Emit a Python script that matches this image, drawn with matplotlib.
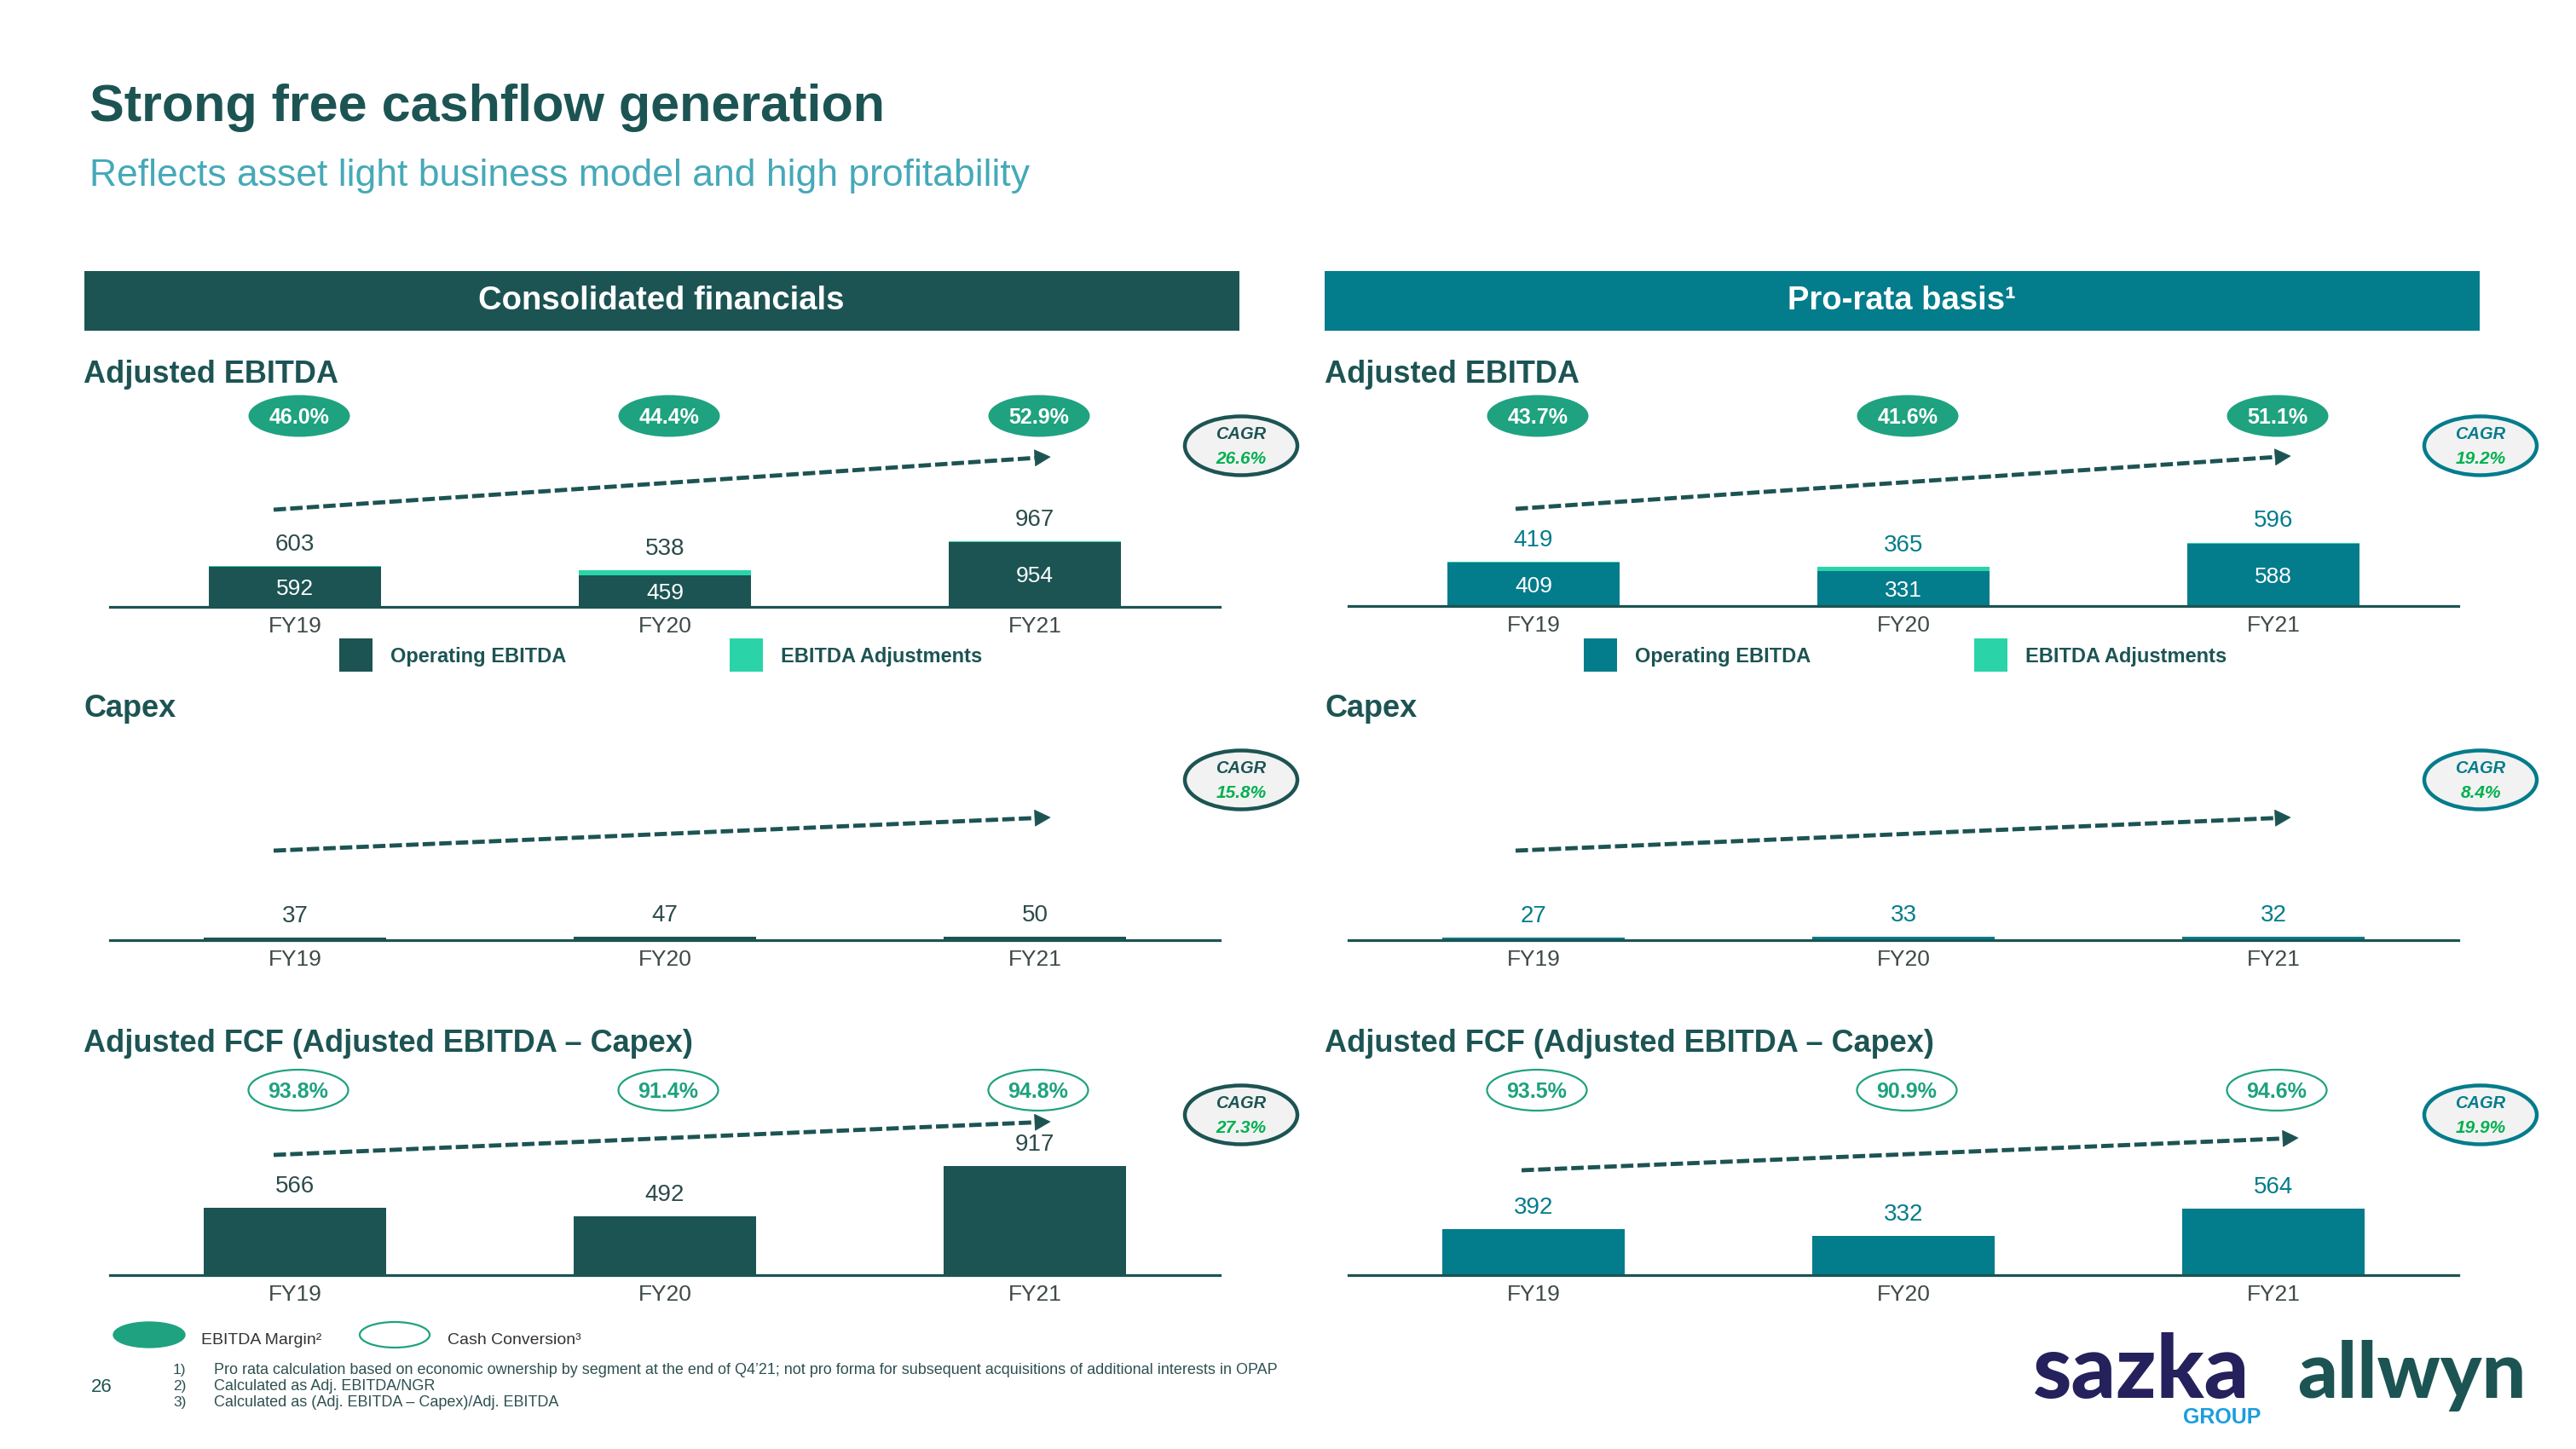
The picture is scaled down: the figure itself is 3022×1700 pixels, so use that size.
import matplotlib
matplotlib.use('Agg')
import matplotlib.pyplot as plt
from matplotlib.patches import Rectangle, Ellipse, Polygon
import numpy as np

# ---------------- data ----------------
categories = ['FY19', 'FY20', 'FY21']

# Consolidated financials
cons_operating_ebitda = [592, 459, 954]
cons_adjusted_ebitda = [603, 538, 967]
cons_ebitda_margin = [46.0, 44.4, 52.9]
cons_capex = [37, 47, 50]
cons_fcf = [566, 492, 917]
cons_cash_conversion = [93.8, 91.4, 94.8]
cons_cagr = [26.6, 15.8, 27.3]          # EBITDA, Capex, FCF

# Pro-rata basis
pr_operating_ebitda = [409, 331, 588]
pr_adjusted_ebitda = [419, 365, 596]
pr_ebitda_margin = [43.7, 41.6, 51.1]
pr_capex = [27, 33, 32]
pr_fcf = [392, 332, 564]
pr_cash_conversion = [93.5, 90.9, 94.6]
pr_cagr = [19.2, 8.4, 19.9]

title = 'Strong free cashflow generation'
subtitle = 'Reflects asset light business model and high profitability'
footnotes = [
    'Pro rata calculation based on economic ownership by segment at the end of Q4\u201921; not pro forma for subsequent acquisitions of additional interests in OPAP',
    'Calculated as Adj. EBITDA/NGR',
    'Calculated as (Adj. EBITDA \u2013 Capex)/Adj. EBITDA',
]

# ---------------- style ----------------
DARK = '#1C5453'
PRO = '#037C8C'
ADJ = '#2AD4A8'
PILL = '#1FA27F'
CAGR_GREEN = '#00B050'
GREY = '#3F4A4A'
SUB = '#45A9B8'
LEFT_LBL = '#2C4A4A'

plt.rcParams['font.family'] = ['Liberation Sans', 'DejaVu Sans']

W, H = 3022, 1700
fig = plt.figure(figsize=(W / 100, H / 100), dpi=100)
fig.patch.set_facecolor('white')

bg = fig.add_axes([0, 0, 1, 1])
bg.set_xlim(0, W)
bg.set_ylim(H, 0)
bg.axis('off')


def T(x, y, s, size, color, weight='normal', ha='left', style='normal', family=None, ax=bg):
    kw = {}
    if family is not None:
        kw['family'] = family
    return ax.text(x, y, s, fontsize=size, color=color, fontweight=weight, ha=ha,
                   va='baseline', fontstyle=style, **kw)


def TC(x, yc, s, size, color, weight='normal', style='normal'):
    return T(x, yc + 0.497 * size, s, size, color, weight=weight, ha='center', style=style)


def arrow(p0, p1, color=DARK, lw=3.5, head_len=18, head_half=9.5):
    p0 = np.array(p0, float)
    p1 = np.array(p1, float)
    d = (p1 - p0) / np.linalg.norm(p1 - p0)
    n = np.array([-d[1], d[0]])
    base = p1 - d * head_len
    bg.plot([p0[0], base[0]], [p0[1], base[1]], color=color, lw=lw,
            linestyle=(0, (3.0, 1.0)), solid_capstyle='butt', dash_capstyle='butt')
    bg.add_patch(Polygon([p1, base + n * head_half, base - n * head_half],
                         closed=True, fc=color, ec=color, lw=0.5))


def cagr_badge(cx, cy, value, edge, label_color):
    bg.add_patch(Ellipse((cx, cy), 132, 69, fc='#F2F2F2', ec=edge, lw=3.2))
    T(cx, cy - 8, 'CAGR', 14.5, label_color, weight='bold', ha='center', style='italic')
    T(cx, cy + 21, f'{value:.1f}%', 15, CAGR_GREEN, weight='bold', ha='center', style='italic')


def bar_axes(x0, x1, base_y, scale, height_px=170):
    ax = fig.add_axes([x0 / W, 1 - base_y / H, (x1 - x0) / W, height_px / H])
    ax.set_xlim(-0.5, 2.5)
    ax.set_ylim(0, height_px * scale)
    ax.patch.set_alpha(0)
    for s in ['top', 'left', 'right']:
        ax.spines[s].set_visible(False)
    ax.spines['bottom'].set_color(DARK)
    ax.spines['bottom'].set_linewidth(2.3)
    ax.set_yticks([])
    ax.set_xticks(range(len(categories)))
    ax.set_xticklabels(categories)
    ax.tick_params(axis='x', length=0, pad=21.4, labelsize=19, labelcolor=GREY)
    for lbl in ax.get_xticklabels():
        lbl.set_verticalalignment('baseline')
    return ax


def value_labels(ax, xs, tops, texts, color):
    for x, t, s in zip(xs, tops, texts):
        ax.annotate(s, (x, t), xytext=(0, 13), textcoords='offset points',
                    ha='center', va='baseline', fontsize=20, color=color)


# ---------------- header ----------------
T(105, 142, title, 44, DARK, weight='bold')
T(105, 218, subtitle, 32, SUB)

bg.add_patch(Rectangle((99, 318), 1355, 70, fc=DARK, ec='none'))
bg.add_patch(Rectangle((1554, 318), 1355, 70, fc=PRO, ec='none'))
T(776, 363, 'Consolidated financials', 27.5, 'white', weight='bold', ha='center')
T(2231, 363, 'Pro-rata basis\u00b9', 27.5, 'white', weight='bold', ha='center')


# ---------------- panels ----------------
panels = [
    dict(x0=129, x1=1431, lab_x=98, color=DARK, lblcolor=LEFT_LBL,
         op=cons_operating_ebitda, adj=cons_adjusted_ebitda, margin=cons_ebitda_margin,
         capex=cons_capex, fcf=cons_fcf, conv=cons_cash_conversion, cagr=cons_cagr,
         ebitda_base=712, ebitda_scale=12.5, fcf_scale=7.15, cagr_x=1456,
         arrows=[((321, 598), (1232, 536)), ((321, 998), (1232, 959)), ((321, 1355), (1232, 1316))],
         leg=(398, 856)),
    dict(x0=1582, x1=2884, lab_x=1554, color=PRO, lblcolor=PRO,
         op=pr_operating_ebitda, adj=pr_adjusted_ebitda, margin=pr_ebitda_margin,
         capex=pr_capex, fcf=pr_fcf, conv=pr_cash_conversion, cagr=pr_cagr,
         ebitda_base=711, ebitda_scale=8.0, fcf_scale=7.25, cagr_x=2910,
         arrows=[((1778, 597), (2687, 535)), ((1778, 998), (2687, 959)), ((1785, 1373), (2696, 1335))],
         leg=(1858, 2316)),
]

x = np.arange(len(categories))

for p in panels:
    x0, x1 = p['x0'], p['x1']
    centers_px = [x0 + (x1 - x0) * (i + 0.5) / 3 for i in range(3)]

    # ----- Adjusted EBITDA -----
    T(p['lab_x'], 449, 'Adjusted EBITDA', 26, DARK, weight='bold')
    ax = bar_axes(x0, x1, p['ebitda_base'], p['ebitda_scale'])
    op = np.array(p['op'])
    adj = np.array(p['adj'])
    ax.bar(x, op, width=0.466, color=p['color'], zorder=2)
    ax.bar(x, adj - op, bottom=op, width=0.466, color=ADJ, zorder=2)
    value_labels(ax, x, adj, [f'{v}' for v in adj], p['lblcolor'])
    for xi, v in zip(x, op):
        ax.annotate(f'{v}', (xi, v / 2), xytext=(0, -6.8), textcoords='offset points',
                    ha='center', va='baseline', fontsize=19, color='white')
    for cpx, m in zip(centers_px, p['margin']):
        bg.add_patch(Ellipse((cpx + 5, 488), 119, 49, fc=PILL, ec='none'))
        TC(cpx + 5, 488, f'{m:.1f}%', 18, 'white', weight='bold')
    arrow(*p['arrows'][0])
    cagr_badge(p['cagr_x'], 523, p['cagr'][0], p['color'], p['color'])
    # legend
    lx1, lx2 = p['leg']
    bg.add_patch(Rectangle((lx1, 749), 39, 39, fc=p['color'], ec='none'))
    bg.add_patch(Rectangle((lx2, 749), 39, 39, fc=ADJ, ec='none'))
    T(lx1 + 60, 777, 'Operating EBITDA', 17, DARK, weight='bold')
    T(lx2 + 60, 777, 'EBITDA Adjustments', 17, DARK, weight='bold')

    # ----- Capex -----
    T(p['lab_x'], 841, 'Capex', 26, DARK, weight='bold')
    ax = bar_axes(x0, x1, 1103, p['ebitda_scale'])
    cap = np.array(p['capex'])
    ax.bar(x, cap, width=0.495, color=p['color'], zorder=2)
    value_labels(ax, x, cap, [f'{v}' for v in cap], p['lblcolor'])
    arrow(*p['arrows'][1])
    cagr_badge(p['cagr_x'], 915, p['cagr'][1], p['color'], p['color'])

    # ----- Adjusted FCF -----
    T(p['lab_x'], 1234, 'Adjusted FCF (Adjusted EBITDA \u2013 Capex)', 26, DARK, weight='bold')
    ax = bar_axes(x0, x1, 1496, p['fcf_scale'])
    fcf = np.array(p['fcf'])
    ax.bar(x, fcf, width=0.495, color=p['color'], zorder=2)
    value_labels(ax, x, fcf, [f'{v}' for v in fcf], p['lblcolor'])
    for cpx, c in zip(centers_px, p['conv']):
        bg.add_patch(Ellipse((cpx + 4, 1279), 117, 48, fc='white', ec=PILL, lw=1.6))
        TC(cpx + 4, 1279, f'{c:.1f}%', 18, PILL, weight='bold')
    arrow(*p['arrows'][2])
    cagr_badge(p['cagr_x'], 1308, p['cagr'][2], p['color'], p['color'])

# ---------------- bottom legend & footnotes ----------------
bg.add_patch(Ellipse((175, 1566), 84, 30, fc=PILL, ec=PILL, lw=1))
bg.add_patch(Ellipse((463, 1566), 82, 30, fc='white', ec=PILL, lw=1.6))
T(236, 1577, 'EBITDA Margin\u00b2', 14, '#333333')
T(525, 1577, 'Cash Conversion\u00b3', 14, '#333333')

T(107, 1633, '26', 16, DARK)
for i, (yb, s) in enumerate(zip([1612, 1631, 1650], footnotes)):
    T(203, yb, f'{i + 1})', 12.5, '#2E5050')
    T(251, yb, s, 13, '#2E5050')

# ---------------- logos (as text) ----------------
T(2385, 1640, 'sazka', 74, '#24215C', weight='black', family=['Lato', 'Liberation Sans'])
T(2652, 1670, 'GROUP', 18, '#1B9DDE', weight='bold', ha='right')
T(2695, 1640, 'allwyn', 66, DARK, weight='black', family=['Lato', 'Liberation Sans'])

fig.savefig('out.png', dpi=100, facecolor='white')
